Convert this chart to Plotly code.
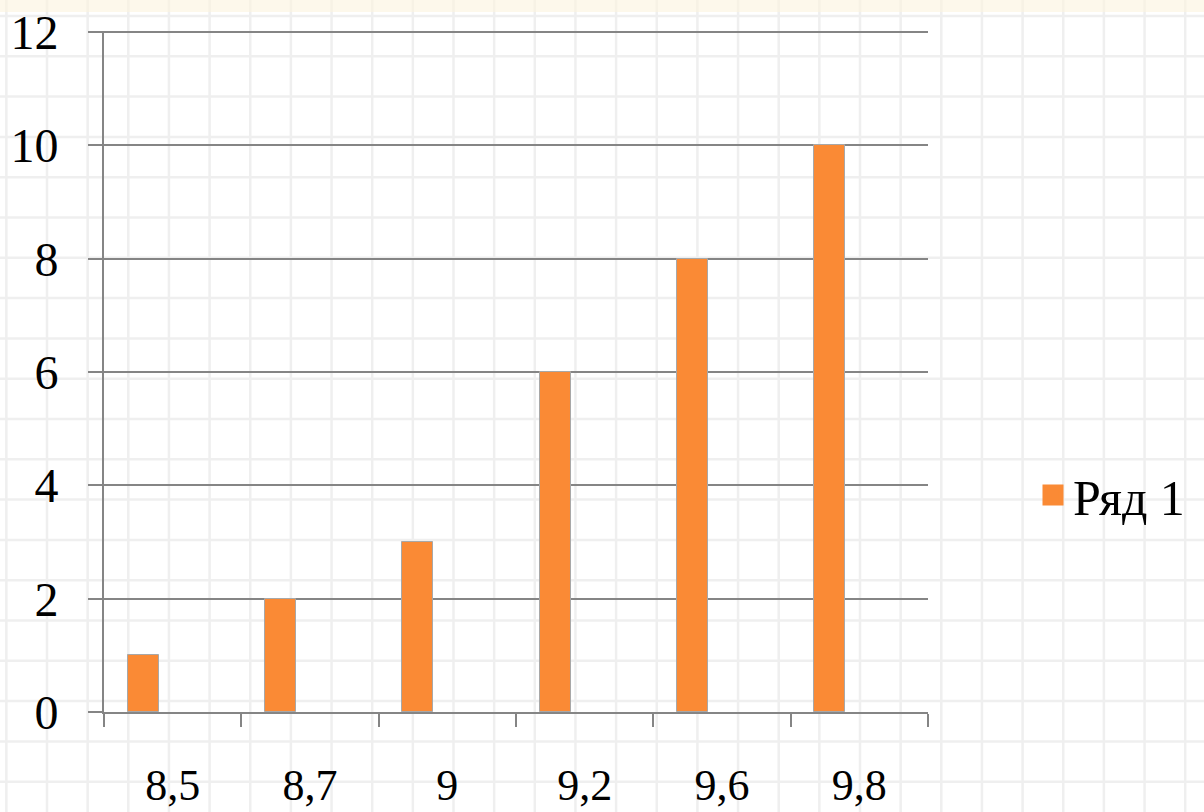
import plotly.graph_objects as go

# ---- data ----
categories = ["8,5", "8,7", "9", "9,2", "9,6", "9,8"]
values = [1, 2, 3, 6, 8, 10]
series_name = "Ряд 1"
y_ticks = [0, 2, 4, 6, 8, 10, 12]

# ---- style / layout constants ----
W, H = 1204, 812
ML, MR, MT, MB = 104, 276, 31, 100
PW, PH = W - ML - MR, H - MT - MB
BAR_COLOR = "#FA8A35"
AXIS_COLOR = "#858585"
FONT = "'Liberation Serif', 'Times New Roman', 'DejaVu Serif', serif"


def px_x(p):
    return (p - ML) / PW


def px_y(p):
    return (H - MB - p) / PH


fig = go.Figure()
fig.add_trace(go.Bar(
    x=categories, y=values, name=series_name,
    marker=dict(color=BAR_COLOR, line=dict(color="#a8a8a8", width=1)),
    width=0.225, offset=-0.328, showlegend=False,
))
# legend entry with a larger square symbol
fig.add_trace(go.Scatter(
    x=[None], y=[None], mode="markers", name=series_name,
    marker=dict(symbol="square", size=16, color=BAR_COLOR,
                line=dict(color=BAR_COLOR, width=5)),
    showlegend=True,
))

# grid-paper background (decoration)
shapes = []
GX0, GDX, GY0, GDY = 6.35, 40.65, 16.0, 40.3
GRID_BG = "rgb(239,239,239)"
k = 0
while GX0 + k * GDX < W:
    xp = px_x(GX0 + k * GDX)
    shapes.append(dict(type="line", xref="paper", yref="paper", layer="below",
                       x0=xp, x1=xp, y0=px_y(H), y1=px_y(0),
                       line=dict(color=GRID_BG, width=2.5)))
    k += 1
k = 0
while GY0 + k * GDY < H:
    yp = px_y(GY0 + k * GDY)
    shapes.append(dict(type="line", xref="paper", yref="paper", layer="below",
                       x0=px_x(0), x1=px_x(W), y0=yp, y1=yp,
                       line=dict(color=GRID_BG, width=2.5)))
    k += 1
# faint cream band at the top
shapes.append(dict(type="rect", xref="paper", yref="paper", layer="below",
                   x0=px_x(0), x1=px_x(W), y0=px_y(12), y1=px_y(0),
                   line=dict(width=0), fillcolor="rgba(252,243,222,0.6)"))

fig.update_layout(
    width=W, height=H,
    margin=dict(l=ML, r=MR, t=MT, b=MB, pad=0, autoexpand=False),
    paper_bgcolor="white",
    plot_bgcolor="rgba(0,0,0,0)",
    shapes=shapes,
    font=dict(family=FONT, color="black"),
    bargap=0,
    legend=dict(x=px_x(1033), y=px_y(495), xanchor="left", yanchor="middle",
                font=dict(size=50, family=FONT, color="black"),
                bgcolor="rgba(0,0,0,0)"),
    xaxis=dict(
        type="category", showline=True, linecolor=AXIS_COLOR, linewidth=2,
        ticks="outside", tickson="boundaries", ticklen=13, tickwidth=2,
        tickcolor=AXIS_COLOR, showgrid=False, zeroline=False,
        tickfont=dict(size=44, family=FONT, color="black"),
        ticklabelstandoff=33, automargin=False,
    ),
    yaxis=dict(
        range=[0, 12.02], tickvals=y_ticks, showline=True, linecolor=AXIS_COLOR,
        linewidth=2, ticks="outside", ticklen=14, tickwidth=2,
        tickcolor=AXIS_COLOR, showgrid=True, gridcolor=AXIS_COLOR,
        gridwidth=2, zeroline=False,
        tickfont=dict(size=48, family=FONT, color="black"),
        ticklabelstandoff=20, automargin=False,
    ),
)

fig.write_html(
    "out.html",
    config={"displayModeBar": False},
    post_script="document.body.style.margin='0';document.body.style.overflow='hidden';",
)
